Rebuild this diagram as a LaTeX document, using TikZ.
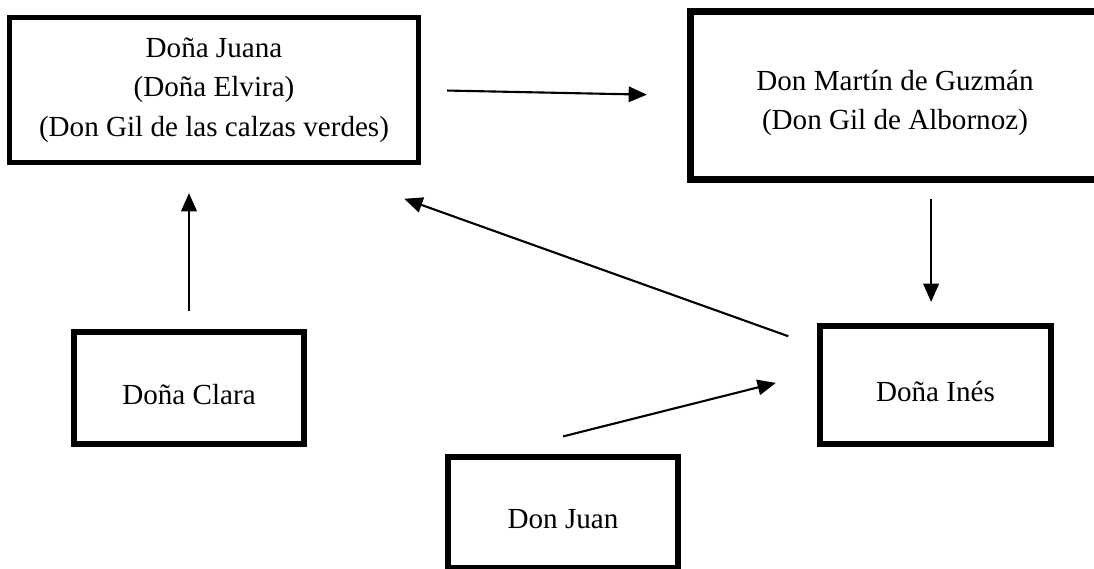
\documentclass[tikz,border=0pt]{standalone}
\usepackage{fontspec}
\setmainfont{Liberation Serif}
\usepackage{tikz}
\usetikzlibrary{arrows.meta}
\tikzset{
  font={\fontsize{20.7pt}{28pt}\selectfont}}

\begin{document}
\begin{tikzpicture}[x=0.025cm, y=-0.025cm]

    \tikzset{edge/.style = {-{Triangle[length=13pt, width=11pt]}, line width=1.5pt}}
    \tikzset{persona/.style = {draw=black, line width=4pt, rectangle, align=center, inner sep=0pt}}
    \tikzset{single/.style = {persona, text height=24.8pt, text depth=1.7pt}}

    \useasboundingbox (0,0) rectangle (1094,568);

    % boxes
    \node[persona, line width=3.6pt, minimum width=10.225cm, minimum height=3.625cm] (juana) at (214,90) {Doña Juana\\(Doña Elvira)\\(Don Gil de las calzas verdes)};
    \node[persona, line width=5pt, minimum width=10.225cm, minimum height=4.2cm] (martin) at (895,95.5) {\rule{0pt}{25pt}Don Martín de Guzmán\\(Don Gil de Albornoz)};
    \node[single, minimum width=5.76cm, minimum height=2.81cm] (clara) at (189,388) {Doña Clara};
    \node[single, minimum width=5.785cm, minimum height=2.96cm] (ines) at (935.5,385) {Doña Inés};
    \node[single, minimum width=5.76cm, minimum height=2.785cm] (juan) at (563,512.5) {Don Juan};

    %arrows
    \draw[edge, shorten <=0.65cm, shorten >=1cm] (juana.east) to (martin.west);
    \draw[edge, shorten <=0.4cm, shorten >=0.525cm] ([xshift=-0.11cm]ines.north |- martin.south) to ([xshift=-0.11cm]ines.north);
    \draw[edge, shorten <=0.45cm, shorten >=0.7cm] (clara.north) to (clara.north |- juana.south);
    \draw[edge, shorten <=0.76cm, shorten >=2.5cm] (ines.162) to (juana.-38);
    \draw[edge, shorten <=1.8cm, shorten >=1.06cm] (juan.140) to (ines.174);

\end{tikzpicture}
\end{document}
